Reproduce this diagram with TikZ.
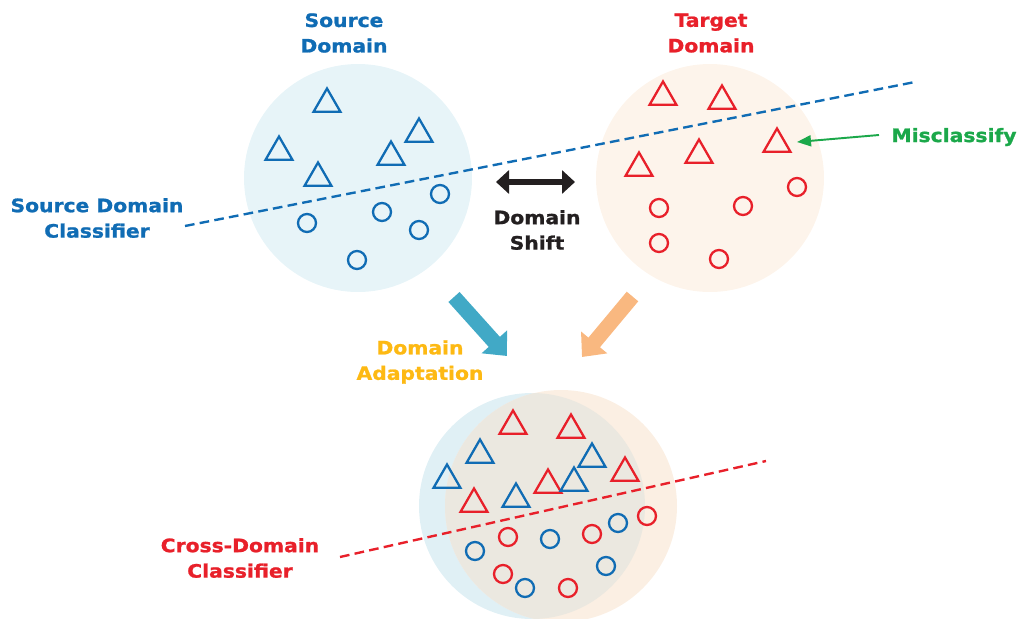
\documentclass[tikz,border=0pt]{standalone}
\usepackage{fontspec}
\setmainfont[FakeStretch=1.1, BoldFeatures={FakeBold=1.2}]{DejaVu Sans}
\usetikzlibrary{arrows.meta,shapes.geometric}
\definecolor{mblue}{HTML}{106CB4}
\definecolor{mred}{HTML}{E8202A}
\definecolor{mgreen}{HTML}{1BA84A}
\definecolor{myellow}{HTML}{FDB913}
\definecolor{mblack}{HTML}{231F20}
\definecolor{mteal}{HTML}{41A9C6}
\definecolor{morange}{HTML}{F9B880}
\definecolor{fblue}{HTML}{E7F4F8}
\definecolor{forange}{HTML}{FDF4EB}
\definecolor{fblueb}{HTML}{E0F0F5}
\definecolor{forangeb}{HTML}{FBEFE3}
\definecolor{fmix}{HTML}{EBE8E0}
\tikzset{
  tri/.style={regular polygon, regular polygon sides=3, minimum size=0.62cm, inner sep=0pt, draw, line width=1.3pt},
  circ/.style={circle, minimum size=0.36cm, inner sep=0pt, draw, line width=1.3pt},
  bm/.style={draw=mblue},
  rm/.style={draw=mred},
  lbl/.style={align=center, inner sep=0pt},
  classline/.style={line width=1.35pt, dash pattern=on 5.5pt off 3pt},
  bigarrow/.style={line width=0.3cm, -{Triangle[width=0.66cm,length=0.38cm]}}
}
\begin{document}
\begin{tikzpicture}[x=0.02cm,y=-0.02cm, font=\fontsize{10.5}{14.5}\selectfont\bfseries]
\useasboundingbox (0,0) rectangle (1025,619);

% domains
\fill[fblue] (358,178) circle (114);
\fill[forange] (710,178) circle (114);

% bottom merged domain
\fill[fblueb] (532,506) circle (113);
\fill[forangeb] (561,506) circle (116);
\begin{scope}
  \clip (532,506) circle (113);
  \fill[fmix] (561,506) circle (116);
\end{scope}

% labels
\node[lbl, text=mblue] (srclab) at (344,33) {Source\\Domain};
\node[lbl, text=mred] (tgtlab) at (711,33) {Target\\Domain};
\node[lbl, text=mblue] (sclab) at (97,218) {Source Domain\\Classifier};
\node[lbl, text=mblack] (shiftlab) at (537,230) {Domain\\Shift};
\node[lbl, text=myellow] (adaptlab) at (420,362) {Domain\\Adaptation};
\node[lbl, text=mred] (cclab) at (240,558) {Cross-Domain\\Classifier};
\node[lbl, text=mgreen] (misslab) at (954,137) {Misclassify};

% source samples
\node[tri,bm] (s1) at (327,104) {};
\node[tri,bm] (s2) at (419,134) {};
\node[tri,bm] (s3) at (279,152) {};
\node[tri,bm] (s4) at (391,157) {};
\node[tri,bm] (s5) at (318,178) {};
\node[circ,bm] (s6) at (307,223) {};
\node[circ,bm] (s7) at (382,212) {};
\node[circ,bm] (s8) at (440,194) {};
\node[circ,bm] (s9) at (419,230) {};
\node[circ,bm] (s10) at (357,260) {};

% target samples
\node[tri,rm] (t1) at (663,97) {};
\node[tri,rm] (t2) at (722,101) {};
\node[tri,rm] (t3) at (777,144) {};
\node[tri,rm] (t4) at (699,155) {};
\node[tri,rm] (t5) at (639,168) {};
\node[circ,rm] (t6) at (659,208) {};
\node[circ,rm] (t7) at (743,206) {};
\node[circ,rm] (t8) at (797,187) {};
\node[circ,rm] (t9) at (659,243) {};
\node[circ,rm] (t10) at (719,259) {};

% merged samples
\node[tri,rm] (m1) at (513,426) {};
\node[tri,rm] (m2) at (571,430) {};
\node[tri,bm] (m3) at (480,455) {};
\node[tri,bm] (m4) at (592,459) {};
\node[tri,bm] (m5) at (447,480) {};
\node[tri,rm] (m6) at (625,473) {};
\node[tri,rm] (m7) at (548,485) {};
\node[tri,bm] (m8) at (574,483) {};
\node[tri,rm] (m9) at (474,504) {};
\node[tri,bm] (m10) at (516,499) {};
\node[circ,rm] (m11) at (647,516) {};
\node[circ,bm] (m12) at (618,523) {};
\node[circ,rm] (m13) at (592,534) {};
\node[circ,bm] (m14) at (550,539) {};
\node[circ,rm] (m15) at (508,537) {};
\node[circ,bm] (m16) at (475,551) {};
\node[circ,bm] (m17) at (606,566) {};
\node[circ,rm] (m18) at (503,574) {};
\node[circ,bm] (m19) at (525,588) {};
\node[circ,rm] (m20) at (568,588) {};

% classifier lines
\coordinate (sca) at (185,226);
\coordinate (scb) at (915,82);
\draw[classline, mblue] (sca) -- (scb);
\coordinate (cca) at (340,557);
\coordinate (ccb) at (766,461);
\draw[classline, mred] (cca) -- (ccb);

% domain shift
\coordinate (dsa) at (496,182);
\coordinate (dsb) at (575,182);
\draw[mblack, line width=0.12cm, {Triangle[width=0.46cm,length=0.26cm]}-{Triangle[width=0.46cm,length=0.26cm]}] (dsa) -- (dsb);

% misclassify pointer
\coordinate (mpa) at (879,135);
\coordinate (mpb) at (797,142);
\draw[mgreen, line width=1.1pt, -{Triangle[width=0.22cm,length=0.28cm]}] (mpa) -- (mpb);

% adaptation arrows
\coordinate (taa) at (454,297);
\coordinate (tab) at (507,356);
\draw[mteal, bigarrow] (taa) -- (tab);
\coordinate (oaa) at (632.5,296.5);
\coordinate (oab) at (582,357);
\draw[morange, bigarrow] (oaa) -- (oab);
\end{tikzpicture}
\end{document}
